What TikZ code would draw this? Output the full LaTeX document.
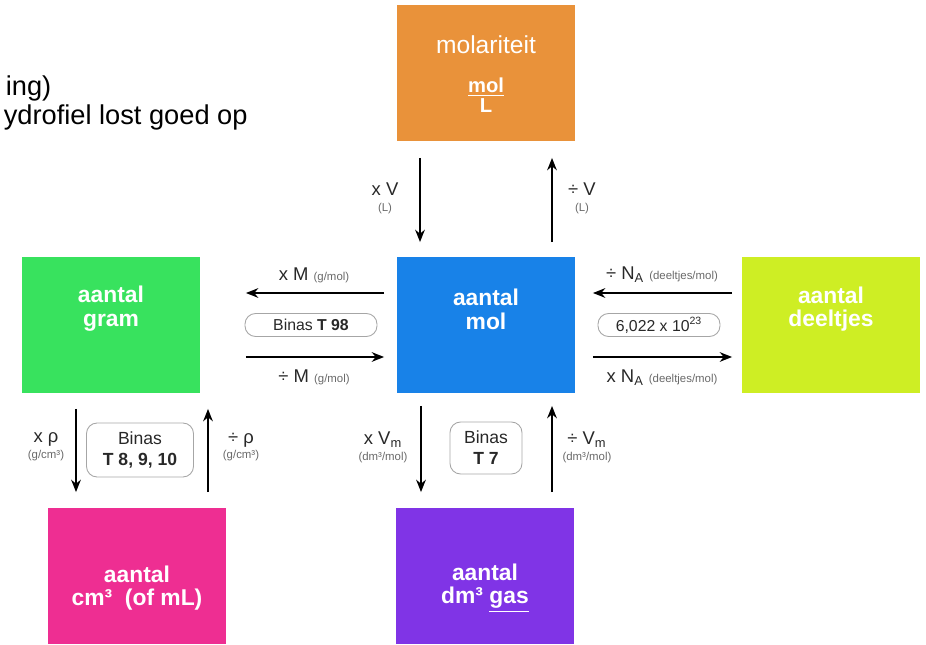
\documentclass[tikz,border=0pt]{standalone}
\usepackage{fontspec}
\setmainfont{Liberation Sans}
\usetikzlibrary{arrows.meta}
\usetikzlibrary{calc}

\definecolor{molarorange}{RGB}{233,146,58}
\definecolor{molblue}{RGB}{24,130,232}
\definecolor{gramgreen}{RGB}{56,226,94}
\definecolor{deellime}{RGB}{206,238,36}
\definecolor{volpink}{RGB}{238,46,146}
\definecolor{gaspurple}{RGB}{128,52,230}
\definecolor{lbltext}{RGB}{40,40,40}
\definecolor{unittext}{RGB}{105,105,105}

\newcommand{\unitsz}[1]{{\fontsize{6.5}{7}\selectfont\color{unittext}#1}}

\begin{document}
\begin{tikzpicture}[
    x=0.02cm, y=-0.02cm,
    >={Stealth[length=7pt,width=5.5pt]},
    line width=1.1pt,
    qbox/.style={minimum width=3.56cm, minimum height=2.72cm, inner sep=0pt},
    boxtext/.style={text=white, align=center, inner sep=0pt,
        font=\fontsize{13}{13.5}\selectfont\bfseries},
    pill/.style={draw=gray!70, line width=0.5pt, rounded corners=6pt,
        text=lbltext, align=center, inner sep=0pt, font=\fontsize{9}{10.5}\selectfont},
    lbl/.style={text=lbltext, align=center, inner sep=1pt,
        font=\fontsize{10.5}{9}\selectfont}
]

\clip (0,0) rectangle (926,645);

% slide text, cut off on the left
\node[anchor=base west, font=\fontsize{15.5}{15.5}\selectfont] (ing) at (-1,96) {ing)};
\node[anchor=base west, font=\fontsize{15.5}{15.5}\selectfont] (hydro) at (-3,125) {ydrofiel lost goed op};

% the six quantities
\node[qbox, fill=molarorange] (molar) at (486,73) {};
\node[qbox, fill=molblue] (mol) at (486,325) {};
\node[qbox, fill=gramgreen] (gram) at (111,325) {};
\node[qbox, fill=deellime] (deel) at (831,325) {};
\node[qbox, fill=volpink] (vol) at (137,576) {};
\node[qbox, fill=gaspurple] (gas) at (485,576) {};

% their texts
\node[boxtext, font=\fontsize{14}{14}\selectfont] (molartxt) at ($(molar.center)+(0,-28)$) {molariteit};
\node[boxtext, font=\fontsize{11.5}{9}\selectfont\bfseries] (molarunit) at ($(molar.center)+(0,22)$) {\underline{mol}\\L};
\node[boxtext] (moltxt) at ($(mol.center)+(0,-16)$) {aantal\\mol};
\node[boxtext] (gramtxt) at ($(gram.center)+(0,-16)$) {aantal\\gram};
\node[boxtext] (deeltxt) at ($(deel.center)+(0,-16)$) {aantal\\deeltjes};
\node[boxtext] (voltxt) at ($(vol.center)+(0,12)$) {aantal\\cm³\ \ (of mL)};
\node[boxtext] (gastxt) at ($(gas.center)+(0,12)$) {aantal\\dm³ \underline{gas}};

% molariteit <-> mol
\draw[->] ($(molar.south)+(-66,16)$) -- ($(mol.north)+(-66,-14)$);
\draw[->] ($(mol.north)+(66,-14)$) -- ($(molar.south)+(66,16)$);
\node[lbl] (xV) at (385,198) {x V\\\unitsz{(L)}};
\node[lbl] (dV) at (582,198) {÷ V\\\unitsz{(L)}};

% mol <-> gram
\draw[->] ($(mol.west)+(-12,-32)$) -- ($(gram.east)+(45,-32)$);
\draw[->] ($(gram.east)+(45,32)$) -- ($(mol.west)+(-12,32)$);
\node[lbl] (xM) at (314,275) {x M \unitsz{(g/mol)}};
\node[pill, minimum width=2.64cm, minimum height=0.46cm] (binas98) at (311,325) {Binas \textbf{T 98}};
\node[lbl] (dM) at (314,377) {÷ M \unitsz{(g/mol)}};

% mol <-> deeltjes
\draw[->] ($(deel.west)+(-9,-32)$) -- ($(mol.east)+(17,-32)$);
\draw[->] ($(mol.east)+(17,32)$) -- ($(deel.west)+(-9,32)$);
\node[lbl] (dNA) at (662,275) {÷ N\textsubscript{A} \unitsz{(deeltjes/mol)}};
\node[pill, minimum width=2.44cm, minimum height=0.46cm] (avog) at (659,325) {6,022 x 10\textsuperscript{23}};
\node[lbl] (xNA) at (662,378) {x N\textsubscript{A} \unitsz{(deeltjes/mol)}};

% gram <-> cm3
\draw[->] ($(gram.south)+(-35,15)$) -- ($(vol.north)+(-61,-15)$);
\draw[->] ($(vol.north)+(71,-15)$) -- ($(gram.south)+(97,15)$);
\node[lbl] (xrho) at (46,447) {x ρ\\\unitsz{(g/cm³)}};
\node[pill, minimum width=2.14cm, minimum height=1.08cm,
      font=\fontsize{10}{12}\selectfont] (binas8) at (140,450) {Binas\\\textbf{T 8, 9, 10}};
\node[lbl] (drho) at (241,447) {÷ ρ\\\unitsz{(g/cm³)}};

% mol <-> gas
\draw[->] ($(mol.south)+(-65,12)$) -- ($(gas.north)+(-64,-15)$);
\draw[->] ($(gas.north)+(67,-15)$) -- ($(mol.south)+(66,12)$);
\node[lbl] (xVm) at (383,447) {x V\textsubscript{m}\\\unitsz{(dm³/mol)}};
\node[pill, minimum width=1.44cm, minimum height=1.04cm,
      font=\fontsize{10}{12}\selectfont] (binas7) at (486,448) {Binas\\\textbf{T 7}};
\node[lbl] (dVm) at (587,447) {÷ V\textsubscript{m}\\\unitsz{(dm³/mol)}};

\end{tikzpicture}
\end{document}
